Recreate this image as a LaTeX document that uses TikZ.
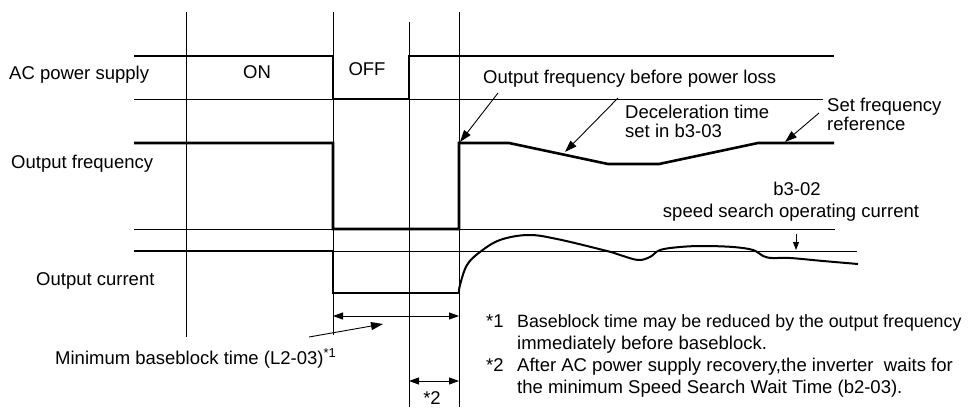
\documentclass[tikz,border=0pt]{standalone}
\usepackage{fontspec}
\setmainfont{Liberation Sans}
\usetikzlibrary{arrows.meta}
\begin{document}
\begin{tikzpicture}[x=1pt,y=-1pt,
  thinl/.style={line width=0.9pt},
  sig/.style={line width=2.6pt, line join=miter},
  lbl/.style={inner sep=0pt, font=\fontsize{18.5}{20}\selectfont},
  ptr/.style={line width=0.9pt, -{Triangle[length=12pt,width=8pt]}},
  smallptr/.style={line width=0.9pt, -{Triangle[length=8pt,width=6pt]}},
  dimarr/.style={line width=0.9pt, {Triangle[length=10pt,width=7pt]}-{Triangle[length=10pt,width=7pt]}}]
\useasboundingbox (0,0) rectangle (971,407);
% time markers
\draw[thinl] (186,12) -- (186,337);
\draw[thinl] (333,12) -- (333,335);
\draw[thinl] (409,22) -- (409,407);
\draw[thinl] (459,12) -- (459,407);
% reference levels
\draw[thinl] (134,99) -- (823,99);
\draw[thinl] (134,229) -- (835,229);
\draw[thinl] (134,251) -- (857,251);
% signals
\draw[sig] (134,56) -- (333,56) -- (333,99) -- (409,99) -- (409,56) -- (834,56);
\draw[sig] (134,143) -- (333,143) -- (333,229) -- (459,229) -- (459,143) -- (509,143) -- (608,164) -- (659,164) -- (758,143) -- (834,143);
\draw[sig] (134,251) -- (333,251) -- (333,293) -- (459,293);
\draw[line width=2pt] plot[smooth, tension=0.6] coordinates {(459,293) (460,285) (467,265) (480,252) (500,240) (528,235) (557,239) (607,251) (620,255) (638,260) (650,257) (660,250) (680,247) (703,246) (733,247) (753,250) (763,256) (772,258) (790,258) (823,261) (858,264)};
% labels
\node[lbl, anchor=base west] (ac) at (9,79) {AC power supply};
\node[lbl, anchor=base] (on) at (257,78) {ON};
\node[lbl, anchor=base] (off) at (367,75) {OFF};
\node[lbl, anchor=base west] (of) at (11,168) {Output frequency};
\node[lbl, anchor=base west] (oc) at (36,285) {Output current};
\node[lbl, anchor=base west] (ofb) at (483,83) {Output frequency before power loss};
\node[lbl, anchor=base west] (dec1) at (625,118) {Deceleration time};
\node[lbl, anchor=base west] (dec2) at (625,137) {set in b3-03};
\node[lbl, anchor=base west] (sf1) at (827,111) {Set frequency};
\node[lbl, anchor=base west] (sf2) at (827,130) {reference};
\node[lbl, anchor=base] (b302) at (797,195) {b3-02};
\node[lbl, anchor=base] (ssoc) at (791,217) {speed search operating current};
\node[lbl, anchor=base west] (mbt) at (55,364) {Minimum baseblock time (L2-03)\textsuperscript{*1}};
\node[lbl, anchor=base] (st2) at (432,404) {*2};
\node[lbl, anchor=base west] (n1) at (486,327) {*1};
\node[lbl, anchor=base west, font=\fontsize{17.8}{20}\selectfont] (n1a) at (517,327) {Baseblock time may be reduced by the output frequency};
\node[lbl, anchor=base west] (n1b) at (517,349) {immediately before baseblock.};
\node[lbl, anchor=base west] (n2) at (486,371) {*2};
\node[lbl, anchor=base west] (n2a) at (517,371) {After AC power supply recovery,the inverter~ waits for};
\node[lbl, anchor=base west] (n2b) at (517,393) {the minimum Speed Search Wait Time (b2-03).};
% pointer arrows
\coordinate (ofbS) at (498,93);
\coordinate (ofbE) at (460,142);
\draw[ptr] (ofbS) -- (ofbE);
\coordinate (decS) at (618,98);
\coordinate (decE) at (565,152);
\draw[ptr] (decS) -- (decE);
\coordinate (sfS) at (819,113);
\coordinate (sfE) at (785,142);
\draw[ptr] (sfS) -- (sfE);
\coordinate (ssS) at (796,234);
\coordinate (ssE) at (796,250);
\draw[smallptr] (ssS) -- (ssE);
\coordinate (mbS) at (309,337);
\coordinate (mbE) at (383,324);
\draw[ptr] (mbS) -- (mbE);
% dimension arrows
\coordinate (d1a) at (333,316);
\coordinate (d1b) at (459,316);
\draw[dimarr] (d1a) -- (d1b);
\coordinate (d2a) at (409,381);
\coordinate (d2b) at (459,381);
\draw[dimarr] (d2a) -- (d2b);
\end{tikzpicture}
\end{document}
